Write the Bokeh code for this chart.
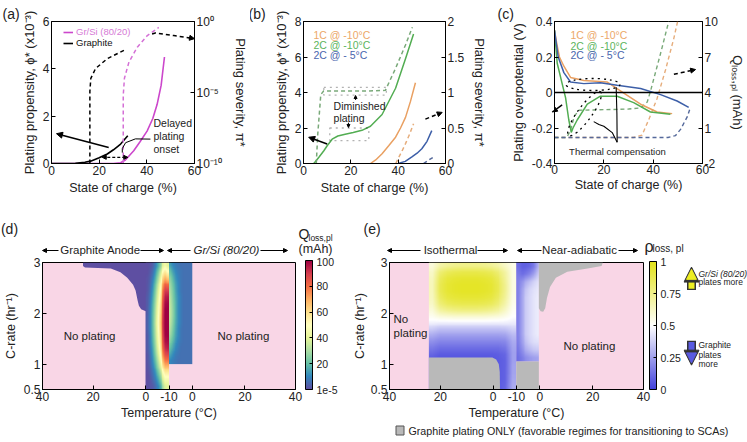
import numpy as np
from bokeh.plotting import figure
from bokeh.layouts import row, column
from bokeh.models import (Range1d, LinearAxis, LogAxis, LogScale, FixedTicker, Label,
                          Arrow, NormalHead, BoxAnnotation, Span, ColorBar, Title,
                          LinearColorMapper, Legend, LegendItem)
from bokeh.palettes import Spectral11
from bokeh.embed import file_html
from bokeh.resources import INLINE

FONT = "Liberation Sans"
PINK = "#f9d6e6"
GRAY = "#b9b9b9"
MAG = "#cc47cc"; MAG_D = "#d470d6"; MAG_T = "#d67ad6"
OR = "#e9a062"; GRN = "#52ad52"; BLU = "#3d5fa8"
OR_D = "#e6ad7c"; GRN_D = "#79a979"; BLU_D = "#55699b"
OR_T = "#eca868"; GRN_T = "#5cb45c"; BLU_T = "#4a66ae"

# ---------------- (a) data ----------------
a_gr_soc = [0, 10, 14, 16.4, 20, 23.4, 26, 29, 32]
a_gr_phi = [0, 0.01, 0.05, 0.1, 0.24, 0.4, 0.58, 0.82, 1.17]
a_si_soc = [0, 26, 29, 31, 34.5, 37, 40.1, 42.5, 44.3, 46, 47.4]
a_si_phi = [0, 0, 0.03, 0.15, 0.54, 0.9, 1.37, 1.9, 2.49, 3.3, 4.5]
a_gr_sev_soc = [16.1, 16.1, 16.5, 18.5, 23.4, 31.1]
a_gr_sev = [1e-10, 1.2e-5, 1e-4, 4.9e-4, 2.4e-3, 1.07e-2]
a_si_sev_soc = [30.1, 30.1, 30.6, 32.5, 36.0, 40.2, 45.0]
a_si_sev = [1e-10, 6.3e-6, 1e-4, 1.4e-3, 1.55e-2, 0.102, 0.38]
a_ptr_soc = [42.2, 43.6, 51.3, 58.0]
a_ptr_sev = [0.132, 0.155, 0.102, 0.07]
a_call_soc = [41.5, 35.2, 31.1, 29.7, 29.7]
a_call_phi = [1.03, 1.04, 0.88, 0.63, 0.46]

# ---------------- (b) data ----------------
b_g_soc = [4.0, 4.4, 6.5, 8.6, 10, 12.1, 14.5, 17.6, 21, 24.7, 28.3, 33.2, 38.9, 43.1, 46.5]
b_g_phi = [0, 0, 0.35, 0.72, 1.0, 1.37, 1.55, 1.65, 1.75, 1.87, 2.1, 2.76, 4.24, 5.9, 7.3]
b_g_sev_soc = [5.4, 6.0, 7.3, 8.5, 15, 25, 34.6, 38.9, 43.1, 46.0]
b_g_sev = [0, 0.4, 0.97, 1.02, 1.02, 1.02, 1.03, 1.34, 1.67, 1.92]
b_o_soc = [28.3, 30.5, 33.2, 36, 38.9, 41, 43.1, 45.2, 47.3]
b_o_phi = [0, 0.2, 0.55, 1.0, 1.48, 2.0, 2.6, 3.5, 4.55]
b_o_sev_soc = [39, 40.3, 41.7, 43.1, 44.8, 46.5]
b_o_sev = [0, 0.09, 0.18, 0.28, 0.41, 0.56]
b_b_soc = [40, 43, 45.8, 48, 50, 52.2, 54.2]
b_b_phi = [0, 0.12, 0.37, 0.58, 0.83, 1.25, 1.85]
b_b_sev_soc = [50.7, 52.5, 54.9]
b_b_sev = [0, 0.04, 0.09]

# ---------------- (c) data ----------------
c_o_soc = [0, 1, 2, 3.8, 6.5, 11.9, 21.4, 24, 28.1, 34.9, 41.6, 47.7]
c_o_v = [0.35, 0.27, 0.2, 0.148, 0.085, 0.068, 0.059, 0.035, -0.004, -0.066, -0.11, -0.119]
c_g_soc = [0, 1.1, 3.1, 4.5, 5.8, 6.8, 7.5, 9.2, 13.3, 18.6, 25.4, 32.1, 38.9, 47]
c_g_v = [0.35, 0.165, 0.05, -0.03, -0.155, -0.225, -0.2, -0.155, -0.066, -0.021, -0.021, -0.057, -0.11, -0.123]
c_b_soc = [0, 1.5, 3.8, 6.5, 11.9, 18.6, 25.4, 34.9, 43, 49.7, 54.4]
c_b_v = [0.35, 0.2, 0.112, 0.059, 0.05, 0.055, 0.041, 0.023, -0.012, -0.048, -0.084]
c_o_q_soc = [0, 32, 35.5, 38.2, 41.6, 45, 48.4, 49.9]
c_o_q = [0.2, 0.2, 0.4, 1.7, 3.5, 5.9, 8.6, 10.0]
c_g_q_soc = [0, 5, 6.5, 8, 10, 20, 30, 35, 37.6, 38.9, 43, 46.3]
c_g_q = [0.2, 0.2, 0.8, 2.0, 2.5, 2.55, 2.6, 2.7, 3.2, 4.1, 7.3, 10.0]
c_b_q_soc = [0, 46, 49, 51.1, 53.8, 55.1]
c_b_q = [0.2, 0.2, 0.35, 0.88, 1.94, 2.74]
c_tc1_soc = [25.0, 25.3, 25.4]
c_tc1_v = [0.03, -0.12, -0.28]
c_tc2_soc = [15.9, 18.0, 20.0, 23.4, 25.4]
c_tc2_v = [-0.164, -0.18, -0.19, -0.226, -0.28]

# ---------------- (d)/(e) data ----------------
temp_ticks = [0, 20, 40.8, 50, 59.2, 80, 100]
temp_labels = ["40", "20", "0", "-10", "0", "20", "40"]
crate_ticks = [0.5, 1, 2, 3]
crate_labels = ["0.5", "1", "2", "3"]

d_gr_u = [16.0, 16.0, 16.8, 27.0, 30.8, 33.5, 35.8, 36.8, 37.6, 38.1, 39.0, 40.8, 40.8, 50.0, 50.0]
d_gr_c = [3.0, 2.93, 2.9, 2.88, 2.81, 2.7, 2.56, 2.45, 2.25, 2.15, 2.08, 2.04, 0.5, 0.5, 3.0]

# Q_loss,pl (mAh) on graphite side, u 40.8-50, C 0.5-3 (rows top -> bottom)
d_graphite_q = [
    [0, 1, 3, 8, 15, 25, 38, 45, 40],
    [0, 2, 5, 12, 22, 35, 50, 58, 52],
    [1, 3, 8, 16, 28, 42, 60, 70, 65],
    [1, 4, 10, 20, 33, 48, 68, 82, 80],
    [1, 5, 12, 23, 37, 52, 74, 90, 90],
    [2, 6, 14, 26, 40, 56, 78, 95, 96],
    [2, 7, 16, 28, 43, 59, 82, 98, 99],
    [2, 8, 17, 30, 45, 61, 84, 100, 100],
    [3, 8, 18, 31, 47, 63, 86, 100, 100],
    [3, 8, 18, 32, 48, 64, 87, 100, 100],
    [3, 8, 18, 31, 47, 63, 86, 100, 100],
    [2, 7, 17, 30, 45, 61, 84, 99, 100],
    [2, 7, 16, 28, 43, 59, 81, 97, 98],
    [2, 6, 14, 26, 40, 56, 77, 93, 95],
    [1, 5, 12, 23, 36, 51, 71, 86, 88],
    [1, 4, 10, 19, 31, 45, 63, 77, 78],
    [1, 3, 8, 15, 26, 38, 54, 66, 66],
    [0, 2, 6, 11, 20, 30, 44, 55, 55],
    [0, 1, 4, 8, 14, 23, 35, 46, 46],
    [0, 1, 2, 5, 9, 16, 27, 38, 40],
]
# Q_loss,pl on Gr/Si side, u 50-59.2, C 1-3 (rows top -> bottom)
d_grsi_q = [
    [14, 10, 8, 7, 6, 6, 6, 6, 6],
    [20, 14, 10, 8, 7, 6, 6, 6, 6],
    [25, 18, 12, 9, 7, 6, 6, 6, 6],
    [28, 21, 14, 10, 7, 6, 6, 6, 6],
    [30, 23, 15, 10, 7, 6, 6, 6, 6],
    [32, 24, 16, 11, 8, 6, 6, 6, 6],
    [33, 25, 17, 11, 8, 6, 6, 6, 6],
    [34, 26, 17, 11, 8, 6, 6, 6, 6],
    [34, 26, 17, 11, 8, 6, 6, 6, 6],
    [33, 25, 16, 11, 8, 6, 6, 6, 6],
    [31, 23, 15, 10, 7, 6, 6, 6, 6],
    [28, 21, 14, 10, 7, 6, 6, 6, 6],
    [24, 18, 12, 9, 7, 6, 6, 6, 6],
    [20, 15, 10, 8, 6, 6, 6, 6, 6],
    [15, 11, 8, 7, 6, 6, 6, 6, 6],
    [10, 8, 7, 6, 6, 6, 6, 6, 6],
]
# rho_loss,pl isothermal, u 15.5-49.9, C 0.5-3 (rows top -> bottom)
e_iso_rho = [
    [0.58, 0.68, 0.72, 0.74, 0.75, 0.75, 0.75, 0.74, 0.72, 0.68, 0.62, 0.55],
    [0.62, 0.80, 0.86, 0.88, 0.89, 0.89, 0.89, 0.88, 0.86, 0.80, 0.70, 0.56],
    [0.64, 0.85, 0.92, 0.94, 0.95, 0.95, 0.95, 0.94, 0.92, 0.85, 0.72, 0.56],
    [0.65, 0.87, 0.94, 0.96, 0.97, 0.97, 0.97, 0.96, 0.94, 0.87, 0.74, 0.56],
    [0.65, 0.87, 0.94, 0.96, 0.97, 0.97, 0.97, 0.96, 0.94, 0.87, 0.74, 0.56],
    [0.64, 0.84, 0.91, 0.93, 0.94, 0.94, 0.94, 0.93, 0.91, 0.84, 0.72, 0.55],
    [0.62, 0.79, 0.85, 0.87, 0.88, 0.88, 0.88, 0.87, 0.85, 0.79, 0.68, 0.54],
    [0.58, 0.70, 0.74, 0.76, 0.77, 0.77, 0.77, 0.76, 0.74, 0.70, 0.62, 0.52],
    [0.53, 0.57, 0.58, 0.59, 0.59, 0.59, 0.59, 0.59, 0.58, 0.57, 0.54, 0.50],
    [0.46, 0.45, 0.45, 0.45, 0.45, 0.45, 0.45, 0.45, 0.45, 0.45, 0.45, 0.45],
    [0.37, 0.34, 0.34, 0.34, 0.34, 0.34, 0.34, 0.34, 0.34, 0.34, 0.35, 0.38],
    [0.28, 0.25, 0.25, 0.25, 0.25, 0.25, 0.25, 0.25, 0.25, 0.25, 0.26, 0.32],
    [0.21, 0.18, 0.18, 0.18, 0.18, 0.18, 0.18, 0.18, 0.18, 0.18, 0.19, 0.28],
    [0.15, 0.12, 0.12, 0.12, 0.12, 0.12, 0.12, 0.12, 0.12, 0.12, 0.14, 0.26],
    [0.10, 0.07, 0.07, 0.07, 0.07, 0.07, 0.07, 0.07, 0.07, 0.08, 0.10, 0.25],
    [0.06, 0.05, 0.05, 0.05, 0.05, 0.05, 0.05, 0.05, 0.06, 0.07, 0.09, 0.25],
    [0.05, 0.05, 0.05, 0.05, 0.05, 0.05, 0.05, 0.05, 0.06, 0.07, 0.09, 0.26],
    [0.05, 0.05, 0.05, 0.05, 0.05, 0.05, 0.05, 0.05, 0.06, 0.07, 0.09, 0.26],
    [0.05, 0.05, 0.05, 0.05, 0.05, 0.05, 0.05, 0.05, 0.06, 0.07, 0.09, 0.27],
    [0.05, 0.05, 0.05, 0.05, 0.05, 0.05, 0.05, 0.05, 0.06, 0.07, 0.10, 0.28],
]
# rho_loss,pl near-adiabatic strip, u 49.9-58.8, C 1.05-3 (rows top -> bottom)
e_adia_rho = [
    [0.12, 0.08, 0.08, 0.10, 0.15, 0.28],
    [0.15, 0.12, 0.14, 0.18, 0.25, 0.35],
    [0.17, 0.22, 0.28, 0.33, 0.38, 0.42],
    [0.17, 0.26, 0.34, 0.39, 0.42, 0.44],
    [0.17, 0.27, 0.36, 0.40, 0.43, 0.45],
    [0.17, 0.27, 0.36, 0.40, 0.43, 0.45],
    [0.17, 0.27, 0.36, 0.40, 0.43, 0.45],
    [0.17, 0.27, 0.36, 0.40, 0.43, 0.45],
    [0.17, 0.27, 0.36, 0.40, 0.43, 0.45],
    [0.17, 0.27, 0.36, 0.40, 0.43, 0.45],
    [0.16, 0.25, 0.33, 0.38, 0.41, 0.42],
    [0.14, 0.21, 0.28, 0.32, 0.35, 0.36],
    [0.12, 0.16, 0.20, 0.23, 0.25, 0.26],
]
e_gray1_u = [15.5, 15.5, 40.5, 42.0, 43.0, 43.4, 43.5]
e_gray1_c = [0.5, 1.13, 1.13, 1.09, 1.0, 0.85, 0.5]
e_gray2_u = [49.9, 49.9, 58.8, 58.8]
e_gray2_c = [0.5, 1.05, 1.05, 0.5]
e_gray3_u = [58.8, 58.8, 59.5, 60.5, 61.3, 62.0, 63.2, 65.5, 70.0, 78.0, 83.5, 84.0]
e_gray3_c = [3.0, 2.1, 2.04, 2.03, 2.1, 2.3, 2.52, 2.7, 2.82, 2.88, 2.93, 3.0]


def interp_colors(colors, n):
    rgb = np.array([[int(c[i:i + 2], 16) for i in (1, 3, 5)] for c in colors], float)
    xs = np.linspace(0, 1, len(colors))
    t = np.linspace(0, 1, n)
    out = np.stack([np.interp(t, xs, rgb[:, k]) for k in range(3)], axis=1)
    return ["#%02x%02x%02x" % tuple(int(round(v)) for v in r) for r in out]


def display_grid(grid_top_down, nx, ny):
    """Bilinear display smoothing of a read grid (cell centred), bottom row first."""
    g = np.flipud(np.array(grid_top_down, float))
    r, c = g.shape
    xc = (np.arange(c) + 0.5) / c
    yc = (np.arange(r) + 0.5) / r
    xf = (np.arange(nx) + 0.5) / nx
    yf = (np.arange(ny) + 0.5) / ny
    tmp = np.array([np.interp(xf, xc, rr) for rr in g])
    return np.array([np.interp(yf, yc, tmp[:, j]) for j in range(nx)]).T


def mkfig(xr, yr, w, h, bl, br, bt, bb, bg="white"):
    p = figure(x_range=xr, y_range=yr, width=w, height=h,
               min_border_left=bl, min_border_right=br, min_border_top=bt,
               min_border_bottom=bb, output_backend="svg", toolbar_location=None,
               background_fill_color=bg, border_fill_color="white")
    p.grid.visible = False
    p.outline_line_color = "black"
    p.outline_line_width = 1
    return p


def strip(w, h, x0, y0):
    # text-only panel whose data coordinates equal page pixels (y downwards)
    p = figure(x_range=Range1d(x0, x0 + w), y_range=Range1d(y0 + h, y0), width=w, height=h,
               min_border=0, x_axis_type=None, y_axis_type=None, output_backend="svg",
               toolbar_location=None, background_fill_color="white",
               border_fill_color="white")
    p.grid.visible = False
    p.outline_line_color = None
    return p


def style_axis(ax, ticks, labels, axis_label=None, standoff=3, lstand=2, lsize="13px"):
    ax.ticker = FixedTicker(ticks=ticks)
    ax.major_label_overrides = dict(zip(ticks, labels))
    ax.axis_label = axis_label
    ax.axis_line_color = "black"
    ax.major_tick_in = 4
    ax.major_tick_out = 0
    ax.major_tick_line_color = "black"
    ax.minor_tick_line_color = None
    ax.major_label_standoff = lstand
    ax.major_label_text_font = FONT
    ax.major_label_text_font_size = "12px"
    ax.major_label_text_color = "#222222"
    ax.axis_label_text_font = FONT
    ax.axis_label_text_font_size = lsize
    ax.axis_label_text_font_style = "normal"
    ax.axis_label_text_color = "#222222"
    ax.axis_label_standoff = standoff


def txt(p, x, y, s, size=12, color="#222222", align="left", baseline="middle",
        angle=0, style="normal", yr="default"):
    p.add_layout(Label(x=x, y=y, text=s, text_font=FONT, text_font_size=f"{size}px",
                       text_color=color, text_align=align, text_baseline=baseline,
                       angle=angle, text_font_style=style, y_range_name=yr))


def arrow(p, x0, y0, x1, y1, dash="solid", color="black", width=1.3, size=6,
          yr="default", both=False):
    def head():
        return NormalHead(size=size, fill_color=color, line_color=color, line_width=1)
    p.add_layout(Arrow(start=head() if both else None, end=head(), x_start=x0,
                       y_start=y0, x_end=x1, y_end=y1, line_color=color,
                       line_width=width, line_dash=dash, y_range_name=yr))


def block_arrow(p, x, y_tail, y_base, y_tip, fill, edge="#333333"):
    s = 1 if y_tip > y_tail else -1
    p.add_layout(Arrow(end=None, x_start=x, y_start=y_tail, x_end=x, y_end=y_base,
                       line_color=edge, line_width=9))
    p.add_layout(Arrow(end=None, x_start=x, y_start=y_tail + 1.5 * s, x_end=x,
                       y_end=y_base + 1 * s, line_color=fill, line_width=6))
    p.add_layout(Arrow(end=NormalHead(size=15, fill_color=edge, line_color=edge),
                       x_start=x, y_start=y_tip - 1 * s, x_end=x, y_end=y_tip,
                       line_alpha=0))
    p.add_layout(Arrow(end=NormalHead(size=10, fill_color=fill, line_color=fill),
                       x_start=x, y_start=y_tip - 4 * s, x_end=x, y_end=y_tip - 3 * s,
                       line_alpha=0))


def legend1(p, label, r, color, loc, gw=10, gh=10, size="9.5px", standoff=3):
    lg = Legend(items=[LegendItem(label=label, renderers=[r])], location=loc,
                background_fill_alpha=0, border_line_color=None, padding=0, margin=0,
                glyph_width=gw, glyph_height=gh, label_height=gh, label_standoff=standoff,
                label_text_font=FONT, label_text_font_size=size,
                label_text_color=color, spacing=0)
    p.add_layout(lg)


def panel_title(p, text, offset):
    p.title = Title(text=text, align="left", offset=offset, standoff=0,
                    text_font=FONT, text_font_size="14px", text_font_style="normal",
                    text_color="#222222")


def colorbar(mapper, ticks, labels, height, loc):
    return ColorBar(color_mapper=mapper, ticker=FixedTicker(ticks=ticks),
                    major_label_overrides=dict(zip(ticks, labels)),
                    width=7, height=height, location=loc, padding=0, margin=0,
                    major_tick_in=3, major_tick_out=0, major_tick_line_color="black",
                    bar_line_color="black", label_standoff=4, background_fill_alpha=0,
                    border_line_color=None, major_label_text_font=FONT,
                    major_label_text_font_size="10.5px", major_label_text_color="#222222")


DASH = "4 3"

# ================= (a) =================
pa = mkfig(Range1d(0, 60), Range1d(0, 6), 250, 200, 51, 56, 19, 37)
pa.extra_y_ranges = {"sev": Range1d(1e-10, 1)}
pa.extra_y_scales = {"sev": LogScale()}
style_axis(pa.xaxis[0], [0, 20, 40, 60], ["0", "20", "40", "60"], "State of charge (%)", lsize="12.5px")
style_axis(pa.yaxis[0], [0, 2, 4, 6], ["0", "2", "4", "6"], "Plating propensity, ϕ* (x10⁻³)")
ra = LogAxis(y_range_name="sev")
style_axis(ra, [1e-10, 1e-5, 1.0], ["10⁻¹⁰", "10⁻⁵", "10⁰"], "Plating severity, π*", standoff=8)
pa.add_layout(ra, "right")
r_si = pa.line(a_si_soc, a_si_phi, line_color=MAG, line_width=1.6)
r_gr = pa.line(a_gr_soc, a_gr_phi, line_color="black", line_width=1.6)
pa.line(a_gr_sev_soc, a_gr_sev, y_range_name="sev", line_color="black", line_width=1.5, line_dash=DASH)
pa.line(a_si_sev_soc, a_si_sev, y_range_name="sev", line_color=MAG_D, line_width=1.5, line_dash=DASH)
pa.line(a_ptr_soc, a_ptr_sev, y_range_name="sev", line_color="black", line_width=1.5, line_dash=DASH)
arrow(pa, 57.5, 0.073, 60, 0.062, yr="sev", size=5)
arrow(pa, 24, 0.68, 2.1, 1.26, width=1.5, size=6)
arrow(pa, 21.3, 0.26, 32, 0.26, dash="3 2", both=True, size=4, width=1.2)
pa.line(a_call_soc, a_call_phi, line_color="black", line_width=1)
legend1(pa, "Gr/Si (80/20)", r_si, MAG_T, (12, 126))
legend1(pa, "Graphite", r_gr, "#111111", (12, 115))
txt(pa, 42.8, 1.70, "Delayed", 10.5)
txt(pa, 42.8, 1.17, "plating", 10.5)
txt(pa, 42.8, 0.62, "onset", 10.5)
panel_title(pa, "(a)", -49)

# ================= (b) =================
pb = mkfig(Range1d(0, 60), Range1d(0, 8), 247, 200, 53, 52, 19, 37)
pb.extra_y_ranges = {"sev": Range1d(0, 2)}
style_axis(pb.xaxis[0], [0, 20, 40, 60], ["0", "20", "40", "60"], "State of charge (%)", lsize="12.5px")
style_axis(pb.yaxis[0], [0, 2, 4, 6, 8], ["0", "2", "4", "6", "8"], "Plating propensity, ϕ* (x10⁻³)")
rb = LinearAxis(y_range_name="sev")
style_axis(rb, [0, 0.5, 1, 1.5, 2], ["0", "0.5", "1", "1.5", "2"], "Plating severity, π*", standoff=5)
pb.add_layout(rb, "right")
pb.line(b_g_soc, b_g_phi, line_color=GRN, line_width=1.5)
pb.line(b_o_soc, b_o_phi, line_color=OR, line_width=1.5)
pb.line(b_b_soc, b_b_phi, line_color=BLU, line_width=1.5)
pb.line(b_g_sev_soc, b_g_sev, y_range_name="sev", line_color=GRN_D, line_width=1.5, line_dash=DASH)
pb.line(b_o_sev_soc, b_o_sev, y_range_name="sev", line_color=OR_D, line_width=1.5, line_dash=DASH)
pb.line(b_b_sev_soc, b_b_sev, y_range_name="sev", line_color=BLU_D, line_width=1.5, line_dash=DASH)
pb.add_layout(BoxAnnotation(left=8.6, right=35, bottom=3.85, top=4.29, fill_alpha=0,
                            line_color="black", line_dash="dotted", line_width=1.3))
pb.add_layout(BoxAnnotation(left=11.1, right=27.6, bottom=1.29, top=2.0, fill_alpha=0,
                            line_color="black", line_dash="dotted", line_width=1.3))
arrow(pb, 22, 3.58, 22, 3.83, size=3, width=1)
arrow(pb, 19, 2.3, 19, 2.03, size=3, width=1)
txt(pb, 12.7, 3.24, "Diminished", 10.5)
txt(pb, 12.7, 2.59, "plating", 10.5)
arrow(pb, 10, 1.1, 2.2, 1.48, width=1.5, size=6)
arrow(pb, 51.5, 0.625, 58.6, 0.72, dash=DASH, yr="sev", width=1.5, size=5)
txt(pb, 4.2, 7.24, "1C @ -10°C", 10.5, color=OR_T)
txt(pb, 4.2, 6.68, "2C @ -10°C", 10.5, color=GRN_T)
txt(pb, 4.2, 6.13, "2C @ - 5°C", 10.5, color=BLU_T)
panel_title(pb, "(b)", -55)

# ================= (c) =================
pc = mkfig(Range1d(0, 60), Range1d(-0.4, 0.4), 250, 200, 57, 45, 21, 31)
pc.extra_y_ranges = {"q": Range1d(-2, 10)}
style_axis(pc.xaxis[0], [0, 20, 40, 60], ["0", "20", "40", "60"], "State of charge (%)",
           standoff=1, lstand=1, lsize="12.5px")
style_axis(pc.yaxis[0], [-0.4, -0.2, 0, 0.2, 0.4], ["-0.4", "-0.2", "0", "0.2", "0.4"],
           "Plating overpotential (V)")
rc = LinearAxis(y_range_name="q")
style_axis(rc, [-2, 1, 4, 7, 10], ["-2", "1", "4", "7", "10"], "Qₗₒₛₛ,ₚₗ (mAh)", standoff=9)
pc.add_layout(rc, "right")
pc.add_layout(Span(location=0, dimension="width", line_color="black", line_width=1.3))
pc.line(c_o_q_soc, c_o_q, y_range_name="q", line_color=OR_D, line_width=1.4, line_dash=DASH)
pc.line(c_g_q_soc, c_g_q, y_range_name="q", line_color=GRN_D, line_width=1.4, line_dash=DASH)
pc.line(c_b_q_soc, c_b_q, y_range_name="q", line_color=BLU_D, line_width=1.4, line_dash=DASH)
pc.line(c_o_soc, c_o_v, line_color=OR, line_width=1.5)
pc.line(c_g_soc, c_g_v, line_color=GRN, line_width=1.5)
pc.line(c_b_soc, c_b_v, line_color=BLU, line_width=1.5)
pc.ellipse(x=[12.2], y=[-0.119], width=54, height=14, width_units="screen",
           height_units="screen", angle=0.94, fill_alpha=0, line_color="black",
           line_dash="dotted", line_width=1.3)
pc.ellipse(x=[15.6], y=[0.045], width=54, height=12, width_units="screen",
           height_units="screen", angle=0, fill_alpha=0, line_color="black",
           line_dash="dotted", line_width=1.3)
pc.line(c_tc1_soc, c_tc1_v, line_color="black", line_width=1.1)
pc.line(c_tc2_soc, c_tc2_v, line_color="black", line_width=1.1)
txt(pc, 25.5, -0.331, "Thermal compensation", 9.5, align="center")
arrow(pc, 3.1, -0.07, -0.9, -0.11, width=1.5, size=5)
arrow(pc, 48.4, 5.54, 57.2, 5.94, dash=DASH, yr="q", width=1.5, size=5)
txt(pc, 6.5, 0.325, "1C @ -10°C", 10.5, color=OR_T)
txt(pc, 6.5, 0.263, "2C @ -10°C", 10.5, color=GRN_T)
txt(pc, 6.5, 0.209, "2C @ - 5°C", 10.5, color=BLU_T)
panel_title(pc, "(c)", -57)

# ================= header strip above (d)/(e) (page y 200-257) =================
hs = strip(747, 57, 0, 200)
txt(hs, 9, 228, "(d)", 14, align="center")
txt(hs, 100, 249, "Graphite Anode", 11.5, align="center")
txt(hs, 226, 249, "Gr/Si (80/20)", 11.5, align="center", style="italic")
arrow(hs, 58, 250, 42, 250, size=4, width=1)
arrow(hs, 140, 250, 163, 250, size=4, width=1)
arrow(hs, 190, 250, 167, 250, size=4, width=1)
arrow(hs, 260, 250, 287, 250, size=4, width=1)
txt(hs, 298, 233, "Q", 14)
txt(hs, 308, 237, "loss,pl", 8.5)
txt(hs, 315, 248, "(mAh)", 12.5, align="center")
txt(hs, 363, 228, "(e)", 14)
txt(hs, 450, 249, "Isothermal", 11.5, align="center")
txt(hs, 579, 249, "Near-adiabatic", 11.5, align="center")
arrow(hs, 420, 250, 387, 250, size=4, width=1)
arrow(hs, 477, 250, 507, 250, size=4, width=1)
arrow(hs, 541, 250, 517, 250, size=4, width=1)
arrow(hs, 618, 250, 637, 250, size=4, width=1)
txt(hs, 644, 246, "ρ", 16)
txt(hs, 652, 248, "loss, pl", 10)

# ================= (d) =================
spec = interp_colors(list(Spectral11), 256)
map_d = LinearColorMapper(palette=spec, low=0, high=100)
pdd = mkfig(Range1d(0, 100), Range1d(0.5, 3), 349, 167, 42, 54, 5, 33, bg=PINK)
style_axis(pdd.xaxis[0], temp_ticks, temp_labels, "Temperature (°C)", standoff=2, lsize="12.5px")
style_axis(pdd.yaxis[0], crate_ticks, crate_labels, "C-rate (hr⁻¹)", lsize="12.5px")
pdd.patch(d_gr_u, d_gr_c, fill_color=spec[0], line_color=None)
pdd.image(image=[display_grid(d_graphite_q, 24, 130)], x=40.8, y=0.5, dw=9.2, dh=2.5,
          color_mapper=map_d)
pdd.image(image=[display_grid(d_grsi_q, 24, 104)], x=50.0, y=1.0, dw=9.2, dh=2.0,
          color_mapper=map_d)
pdd.add_layout(colorbar(map_d, [0, 20, 40, 60, 80, 100],
                        ["1e-5", "20", "40", "60", "80", "100"], 129, (263, 0)))
txt(pdd, 18.6, 1.55, "No plating", 11.5, align="center")
txt(pdd, 79.4, 1.55, "No plating", 11.5, align="center")

# ================= (e) =================
bwy = interp_colors(["#4141dc", "#ffffff", "#e3e31a"], 256)
map_e = LinearColorMapper(palette=bwy, low=0, high=1)
pe = mkfig(Range1d(0, 100), Range1d(0.5, 3), 334, 167, 40, 40, 4, 35, bg=PINK)
style_axis(pe.xaxis[0], temp_ticks, temp_labels, "Temperature (°C)", standoff=2, lsize="12.5px")
style_axis(pe.yaxis[0], crate_ticks, crate_labels, "C-rate (hr⁻¹)", standoff=1,
           lsize="12.5px")
pe.image(image=[display_grid(e_iso_rho, 88, 128)], x=15.5, y=0.5, dw=34.4, dh=2.5,
         color_mapper=map_e)
pe.image(image=[display_grid(e_adia_rho, 24, 100)], x=49.9, y=1.05, dw=8.9, dh=1.95,
         color_mapper=map_e)
pe.patch(e_gray1_u, e_gray1_c, fill_color=GRAY, line_color=None)
pe.patch(e_gray2_u, e_gray2_c, fill_color=GRAY, line_color=None)
pe.patch(e_gray3_u, e_gray3_c, fill_color=GRAY, line_color=None)
pe.add_layout(colorbar(map_e, [0, 0.25, 0.5, 0.75, 1],
                       ["0", "0.25", "0.5", "0.75", "1"], 128, (260, 0)))
txt(pe, 1.6, 1.89, "No", 11.5)
txt(pe, 1.6, 1.61, "plating", 11.5)
txt(pe, 78.7, 1.36, "No plating", 11.5, align="center")

# ================= side panel with block arrows (page x 683-747, y 257-424) =========
sd = strip(64, 167, 683, 257)
block_arrow(sd, 691, 293, 277, 263, "#eeee22")
block_arrow(sd, 691, 360, 377, 392, "#5a5ae0")
txt(sd, 698, 272, "Gr/Si (80/20)", 8.5, style="italic")
txt(sd, 698, 283, "plates  more", 8.5)
txt(sd, 698, 366, "Graphite", 8.5)
txt(sd, 698, 378, "plates", 8.5)
txt(sd, 698, 390, "more", 8.5)

# ================= bottom strip with the grey legend (page y 424-442) =============
bs = strip(747, 18, 0, 424)
bs.add_layout(Label(x=399.5, y=430, text="\u2003", text_font=FONT, text_font_size="8px",
                    text_align="center", text_baseline="middle",
                    background_fill_color=GRAY, border_line_color="#555555",
                    border_line_width=1))
txt(bs, 408, 430, "Graphite plating ONLY (favorable regimes for transitioning to SCAs)", 10.7)

layout = column(row(pa, pb, pc), hs, row(pdd, pe, sd), bs)
open("out.html", "w").write(file_html(layout, INLINE))
